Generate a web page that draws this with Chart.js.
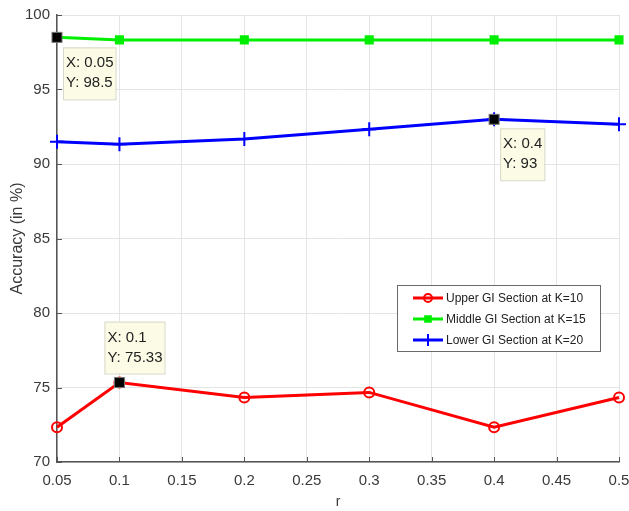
<!DOCTYPE html>
<html>
<head>
<meta charset="utf-8">
<script src="https://cdn.jsdelivr.net/npm/chart.js@4.4.1/dist/chart.umd.min.js"></script>
<style>
  html, body { margin: 0; padding: 0; background: #fff; }
  #wrap { width: 629px; height: 511px; }
</style>
</head>
<body>
<div id="wrap"><canvas id="chartAcc"></canvas></div>
<script>
const rValues = [0.05, 0.1, 0.2, 0.3, 0.4, 0.5];
const upperGI = [72.33, 75.33, 74.33, 74.67, 72.33, 74.33];
const middleGI = [98.5, 98.33, 98.33, 98.33, 98.33, 98.33];
const lowerGI = [91.5, 91.33, 91.67, 92.33, 93, 92.67];
const seriesLabels = ['Upper GI Section at K=10', 'Middle GI Section at K=15', 'Lower GI Section at K=20'];
const xTicks = [0.05, 0.1, 0.15, 0.2, 0.25, 0.3, 0.35, 0.4, 0.45, 0.5];
const yTicks = [70, 75, 80, 85, 90, 95, 100];
// which points carry a data tip: [dataset index, point index]
const tipPoints = [[1, 0], [0, 1], [2, 4]];

const FONT = "'Liberation Sans', Arial, sans-serif";
const TEXT = '#3a3a3a';

function toXY(ys) {
    return rValues.map((x, i) => ({ x: x, y: ys[i] }));
}

function makeSet(label, ys, color, style, radius, fill) {
    return {
        label: label,
        data: toXY(ys),
        borderColor: color,
        backgroundColor: fill ? color : 'rgba(0,0,0,0)',
        borderWidth: 3,
        pointStyle: style,
        pointRadius: radius,
        pointBorderWidth: 2,
        pointBorderColor: color,
        pointBackgroundColor: fill ? color : 'rgba(0,0,0,0)',
        tension: 0,
        clip: false
    };
}

// data tips like MATLAB: black marker + cream box with X/Y
const tipPlugin = {
    id: 'tips',
    beforeDatasetsDraw(chart) {
        // small inward tick marks on the left and bottom axes
        const ctx = chart.ctx;
        const ca = chart.chartArea;
        const xs = chart.scales.x, ys = chart.scales.y;
        ctx.save();
        ctx.strokeStyle = '#555';
        ctx.lineWidth = 1;
        ctx.beginPath();
        xTicks.forEach(function (v) {
            const px = Math.round(xs.getPixelForValue(v)) + 0.5;
            ctx.moveTo(px, ca.bottom);
            ctx.lineTo(px, ca.bottom - 5);
        });
        yTicks.forEach(function (v) {
            const py = Math.round(ys.getPixelForValue(v)) + 0.5;
            ctx.moveTo(ca.left, py);
            ctx.lineTo(ca.left + 5, py);
        });
        ctx.stroke();
        ctx.restore();
    },
    afterDatasetsDraw(chart) {
        const ctx = chart.ctx;
        const xs = chart.scales.x, ys = chart.scales.y;
        const offsets = [[6, 10], [-15, -61], [6, 9]];
        tipPoints.forEach(function (tp, k) {
            const d = chart.data.datasets[tp[0]].data[tp[1]];
            const px = xs.getPixelForValue(d.x), py = ys.getPixelForValue(d.y);
            ctx.save();
            ctx.fillStyle = '#000';
            ctx.strokeStyle = '#777';
            ctx.lineWidth = 1;
            ctx.fillRect(px - 5, py - 5, 10, 10);
            ctx.strokeRect(px - 5, py - 5, 10, 10);
            const lines = ['X: ' + d.x, 'Y: ' + d.y];
            ctx.font = '15px ' + FONT;
            const w = Math.max.apply(null, lines.map(l => ctx.measureText(l).width)) + 5;
            const bx = px + offsets[k][0], by = py + offsets[k][1];
            ctx.fillStyle = '#fbfbe6';
            ctx.strokeStyle = '#d8d8c8';
            ctx.fillRect(bx, by, w, 52);
            ctx.strokeRect(bx + 0.5, by + 0.5, w, 52);
            ctx.fillStyle = '#222';
            ctx.textBaseline = 'middle';
            ctx.fillText(lines[0], bx + 3, by + 16);
            ctx.fillText(lines[1], bx + 3, by + 36);
            ctx.restore();
        });
    },
    afterDraw(chart) {
        // legend box inside the axes
        const ctx = chart.ctx;
        const ca = chart.chartArea;
        const lx = ca.right - 222, ly = ca.top + 270, lw = 203, lh = 66;
        ctx.save();
        ctx.fillStyle = '#fff';
        ctx.fillRect(lx, ly, lw, lh);
        ctx.strokeStyle = '#6a6a6a';
        ctx.lineWidth = 1;
        ctx.strokeRect(lx + 0.5, ly + 0.5, lw, lh);
        ctx.font = '12px ' + FONT;
        ctx.textBaseline = 'middle';
        chart.data.datasets.forEach(function (ds, i) {
            const y = ly + 13 + i * 21;
            ctx.strokeStyle = ds.borderColor;
            ctx.lineWidth = 3;
            ctx.beginPath();
            ctx.moveTo(lx + 16, y);
            ctx.lineTo(lx + 46, y);
            ctx.stroke();
            ctx.fillStyle = ds.pointBackgroundColor;
            ctx.strokeStyle = ds.borderColor;
            ctx.lineWidth = 2;
            Chart.helpers.drawPoint(ctx, { pointStyle: ds.pointStyle, radius: ds.pointRadius - 1, borderWidth: 2 }, lx + 31, y);
            ctx.fillStyle = '#222';
            ctx.fillText(ds.label, lx + 49, y + 1);
        });
        ctx.restore();
    }
};

new Chart(document.getElementById('chartAcc'), {
    type: 'line',
    data: {
        datasets: [
            makeSet(seriesLabels[0], upperGI, '#ff0000', 'circle', 5, false),
            makeSet(seriesLabels[1], middleGI, '#00ee00', 'rect', 5, true),
            makeSet(seriesLabels[2], lowerGI, '#0000ff', 'cross', 7, false)
        ]
    },
    options: {
        responsive: true,
        maintainAspectRatio: false,
        animation: false,
        layout: { padding: { top: 15, right: 10, left: 0, bottom: 0 } },
        plugins: {
            legend: { display: false },
            tooltip: { enabled: false }
        },
        scales: {
            x: {
                type: 'linear',
                min: 0.05,
                max: 0.5,
                afterBuildTicks: function (axis) {
                    axis.ticks = xTicks.map(v => ({ value: v }));
                },
                afterFit: function (axis) {
                    axis.height = 49;
                    axis.paddingLeft = 0;
                    axis.paddingRight = 0;
                },
                grid: { color: '#e4e4e4', drawTicks: false, lineWidth: 1 },
                border: { color: '#555', width: 1.5 },
                ticks: {
                    color: TEXT,
                    font: { family: FONT, size: 15 },
                    padding: 10,
                    maxRotation: 0,
                    autoSkip: false,
                    callback: v => String(Math.round(v * 100) / 100)
                },
                title: {
                    display: true,
                    text: 'r',
                    color: TEXT,
                    font: { family: FONT, size: 14 },
                    padding: { top: 5, bottom: 0 }
                }
            },
            y: {
                min: 70,
                max: 100,
                afterBuildTicks: function (axis) {
                    axis.ticks = yTicks.map(v => ({ value: v }));
                },
                afterFit: function (axis) {
                    axis.width = 57;
                    axis.paddingTop = 0;
                    axis.paddingBottom = 0;
                },
                grid: { color: '#e4e4e4', drawTicks: false, lineWidth: 1 },
                border: { color: '#555', width: 1.5 },
                ticks: {
                    color: TEXT,
                    font: { family: FONT, size: 15 },
                    padding: 7
                },
                title: {
                    display: true,
                    text: 'Accuracy (in %)',
                    color: TEXT,
                    font: { family: FONT, size: 16 },
                    padding: { top: 8, bottom: 0 }
                }
            }
        }
    },
    plugins: [tipPlugin]
});
</script>
</body>
</html>
